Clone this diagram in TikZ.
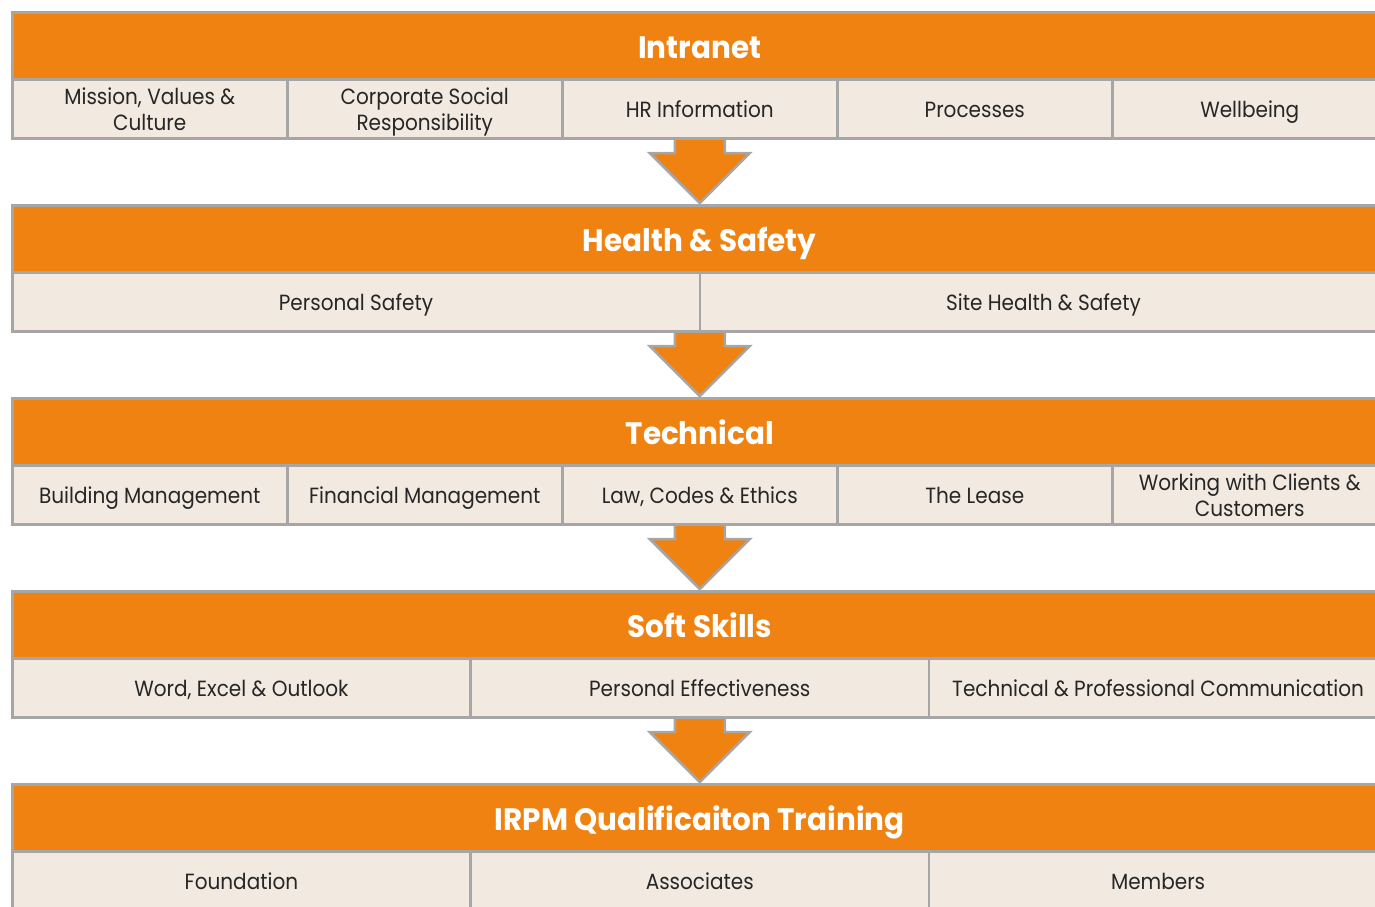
\documentclass[tikz,border=0pt]{standalone}
\usepackage{fontspec}
\usetikzlibrary{backgrounds}
\setmainfont{Poppins}
\newfontfamily\headfont{Poppins}[FakeStretch=0.95]
\newfontfamily\cellfont{Poppins}[FakeStretch=0.91]
\definecolor{brandorange}{HTML}{F08212}
\definecolor{cellcream}{HTML}{F2EAE0}
\definecolor{edgegray}{HTML}{A6A6A6}
\definecolor{inkgray}{HTML}{262626}
\begin{document}
\begin{tikzpicture}[x=1pt,y=-1pt,
  hdr/.style={fill=brandorange, draw=edgegray, line width=2.5pt, minimum height=67pt,
    minimum width=1375pt, inner sep=0pt, anchor=north west, text=white,
    text height=26pt, text depth=0pt,
    font=\headfont\bfseries\fontsize{31}{34}\selectfont},
  cell/.style={fill=cellcream, draw=edgegray, line width=2.5pt, minimum height=59pt,
    inner sep=0pt, anchor=north west, align=center, text=inkgray,
    text height=17pt, text depth=0pt,
    font=\cellfont\fontsize{22}{26}\selectfont},
  twoline/.style={text height=43pt},
  c5/.style={cell, minimum width=275pt},
  c3/.style={cell, minimum width=458.33pt},
  c2/.style={cell, minimum width=687.5pt},
  flowarrow/.pic={
    \draw[fill=brandorange, draw=edgegray, line width=2.5pt, line join=miter]
      (-25,-68) -- (-25,-50) -- (-50,-50) -- (0,0) -- (50,-50) -- (25,-50) -- (25,-68) -- cycle;
  }]
\useasboundingbox (0,0) rectangle (1375,906);
\clip (0,0) rectangle (1375,906);

% block 1: Intranet
\node[hdr] (h1) at (11,11) {Intranet};
\node[c5, twoline] (a1) at (11,78) {Mission, Values \&\\Culture};
\node[c5, twoline] (a2) at (286,78) {Corporate Social\\Responsibility};
\node[c5] (a3) at (561,78) {HR Information};
\node[c5] (a4) at (836,78) {Processes};
\node[c5] (a5) at (1111,78) {Wellbeing};

% block 2: Health & Safety
\node[hdr] (h2) at (11,204) {Health \& Safety};
\node[c2] (b1) at (11,271) {Personal Safety};
\node[c2] (b2) at (698.5,271) {Site Health \& Safety};

% block 3: Technical
\node[hdr] (h3) at (11,397) {Technical};
\node[c5] (t1) at (11,464) {Building Management};
\node[c5] (t2) at (286,464) {Financial Management};
\node[c5] (t3) at (561,464) {Law, Codes \& Ethics};
\node[c5] (t4) at (836,464) {The Lease};
\node[c5, twoline] (t5) at (1111,464) {Working with Clients \&\\Customers};

% block 4: Soft Skills
\node[hdr] (h4) at (11,590) {Soft Skills};
\node[c3] (s1) at (11,657) {Word, Excel \& Outlook};
\node[c3] (s2) at (469.33,657) {Personal Effectiveness};
\node[c3] (s3) at (927.67,657) {Technical \& Professional Communication};

% block 5: IRPM
\node[hdr] (h5) at (11,783) {IRPM Qualificaiton Training};
\node[c3] (q1) at (11,850) {Foundation};
\node[c3] (q2) at (469.33,850) {Associates};
\node[c3] (q3) at (927.67,850) {Members};

% down arrows between blocks, tucked behind the boxes
\begin{scope}[on background layer]
\pic at ([yshift=1pt]h2.north) {flowarrow};
\pic at ([yshift=1pt]h3.north) {flowarrow};
\pic at ([yshift=1pt]h4.north) {flowarrow};
\pic at ([yshift=1pt]h5.north) {flowarrow};
\end{scope}
\end{tikzpicture}
\end{document}
